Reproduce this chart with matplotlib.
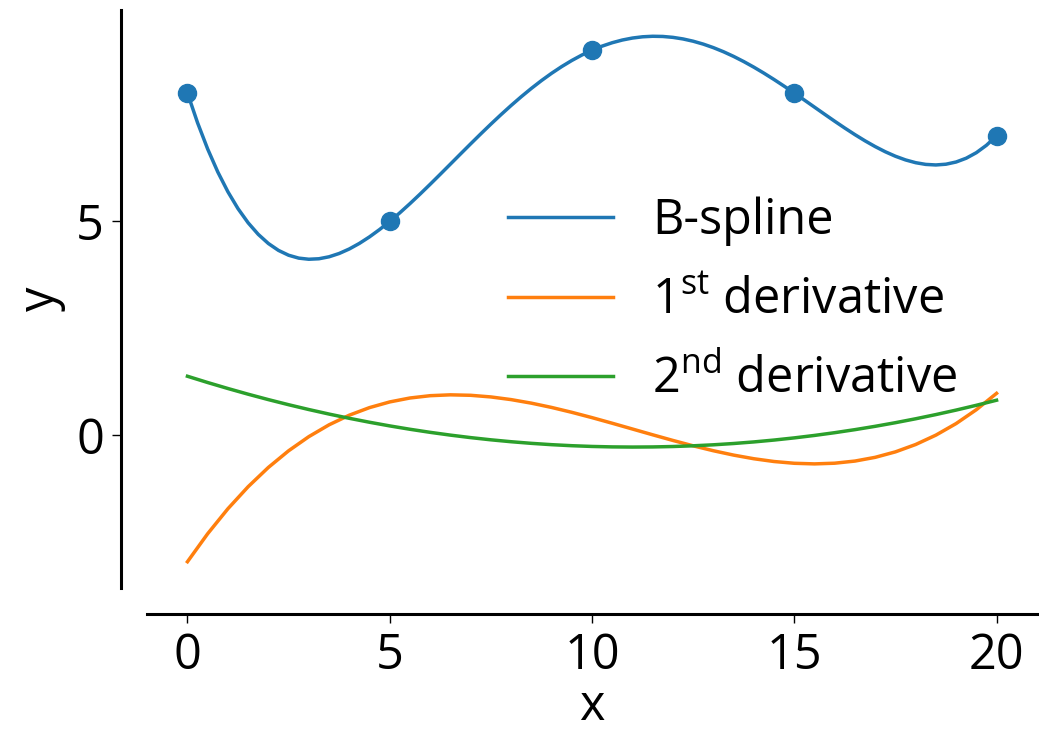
import matplotlib
matplotlib.use("Agg")
import matplotlib.pyplot as plt

plt.rcParams['font.family'] = ['Open Sans', 'DejaVu Sans']
plt.rcParams['mathtext.fontset'] = 'custom'
plt.rcParams['mathtext.rm'] = 'Open Sans'

# knot points
x_pts = [0, 5, 10, 15, 20]
y_pts = [8, 5, 9, 8, 7]

# B-spline curve, x step 0.25
x_spline = [i * 0.25 for i in range(81)]
spline_vals = [8.0, 7.3050, 6.6917, 6.1558, 5.6928, 5.2983, 4.9682, 4.6984, 4.4848, 4.3236,
               4.2109, 4.1432, 4.1168, 4.1283, 4.1742, 4.2515, 4.3568, 4.4872, 4.6397, 4.8116,
               5.0, 5.2024, 5.4162, 5.6391, 5.8688, 6.1030, 6.3397, 6.5770, 6.8128, 7.0455,
               7.2734, 7.4950, 7.7088, 7.9135, 8.1077, 8.2905, 8.4608, 8.6176, 8.7602, 8.8879,
               9.0, 9.0961, 9.1757, 9.2387, 9.2848, 9.3140, 9.3262, 9.3218, 9.3008, 9.2637,
               9.2109, 9.1431, 9.0608, 8.9649, 8.8562, 8.7358, 8.6048, 8.4643, 8.3157, 8.1605,
               8.0, 7.8360, 7.6702, 7.5045, 7.3408, 7.1812, 7.0277, 6.8828, 6.7488, 6.6281,
               6.5234, 6.4374, 6.3728, 6.3326, 6.3197, 6.3374, 6.3888, 6.4773, 6.6062, 6.7793,
               7.0]

# derivatives, x step 0.5
x_deriv = [i * 0.5 for i in range(41)]
deriv1_vals = [-2.95, -2.2953, -1.7121, -1.1972, -0.7471, -0.3583, -0.0276, 0.2485, 0.4735, 0.6506,
               0.7833, 0.8751, 0.9292, 0.9491, 0.9383, 0.9, 0.8377, 0.7549, 0.6548, 0.5409,
               0.4167, 0.2854, 0.1505, 0.0155, -0.1164, -0.2417, -0.3569, -0.4588, -0.5439, -0.6087,
               -0.65, -0.6643, -0.6481, -0.5982, -0.5111, -0.3833, -0.2116, 0.0075, 0.2775, 0.6016,
               0.9833]
deriv2_vals = [1.3833, 1.2367, 1.0969, 0.9639, 0.8377, 0.7183, 0.6057, 0.4999, 0.4009, 0.3087,
               0.2233, 0.1447, 0.0729, 0.0079, -0.0503, -0.1017, -0.1463, -0.1841, -0.2151, -0.2393,
               -0.2567, -0.2673, -0.2711, -0.2681, -0.2583, -0.2417, -0.2183, -0.1881, -0.1511, -0.1073,
               -0.0567, 0.0007, 0.0649, 0.1359, 0.2137, 0.2983, 0.3897, 0.4879, 0.5929, 0.7047,
               0.8233]

labels = ['B-spline', r'1$^{\mathrm{st}}$ derivative', r'2$^{\mathrm{nd}}$ derivative']
x_ticks = [0, 5, 10, 15, 20]
y_ticks = [0, 5]

W, H = 1039, 736
fig = plt.figure(figsize=(W / 100, H / 100), dpi=100)
ax = fig.add_axes([147 / W, (H - 588) / H, (1037 - 147) / W, (588 - 10) / H])

lw = 2.5
fs = 35
ax.plot(x_pts, y_pts, 'o', color='C0', markersize=13)
ax.plot(x_spline, spline_vals, color='C0', lw=lw, label=labels[0])
ax.plot(x_deriv, deriv1_vals, color='C1', lw=lw, label=labels[1])
ax.plot(x_deriv, deriv2_vals, color='C2', lw=lw, label=labels[2])

ax.set_xticks(x_ticks)
ax.set_yticks(y_ticks)
for s in ['top', 'right']:
    ax.spines[s].set_visible(False)
for s in ['left', 'bottom']:
    ax.spines[s].set_position(('outward', 18.5))
    ax.spines[s].set_linewidth(2.2)
ax.tick_params(labelsize=fs, length=6.5, width=1.0, pad=6)
ax.set_xlabel('x', fontsize=fs, labelpad=1.5)
ax.set_ylabel('y', fontsize=fs, labelpad=7)

leg = ax.legend(frameon=False, fontsize=fs, loc='upper left',
                bbox_to_anchor=(0.384, 0.711), handlelength=2.16, labelspacing=0.62,
                borderaxespad=0)

fig.savefig('out.png', dpi=100)
